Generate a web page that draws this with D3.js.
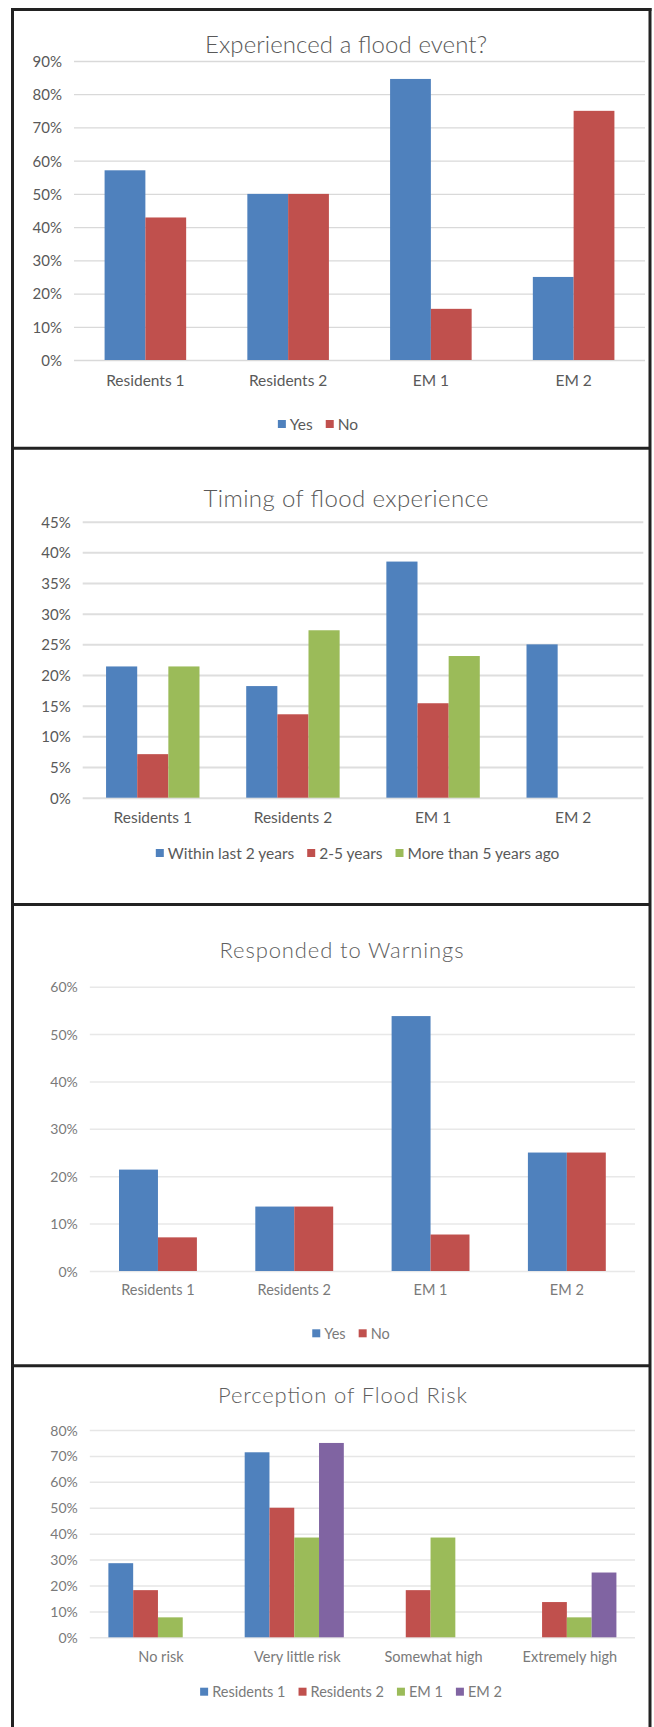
<!DOCTYPE html>
<html>
<head>
<meta charset="utf-8">
<script src="https://cdn.jsdelivr.net/npm/d3@7"></script>
<style>
  html, body { margin: 0; padding: 0; background: #ffffff; }
  svg { display: block; }
</style>
</head>
<body>
<svg id="chart" width="654" height="1727"></svg>
<script>
// ---------- DATA ----------
const groups = ["Residents 1", "Residents 2", "EM 1", "EM 2"];

const floodSeries = ["Yes", "No"];
const floodYes = [0.571, 0.500, 0.846, 0.250];
const floodNo  = [0.429, 0.500, 0.154, 0.750];
const floodTicks = [0, 0.1, 0.2, 0.3, 0.4, 0.5, 0.6, 0.7, 0.8, 0.9];

const timingSeries = ["Within last 2 years", "2-5 years", "More than 5 years ago"];
const timingWithin2 = [0.214, 0.182, 0.385, 0.250];
const timing2to5    = [0.071, 0.136, 0.154, 0.000];
const timingOver5   = [0.214, 0.273, 0.231, 0.000];
const timingTicks = [0, 0.05, 0.10, 0.15, 0.20, 0.25, 0.30, 0.35, 0.40, 0.45];

const warnSeries = ["Yes", "No"];
const warnYes = [0.214, 0.136, 0.538, 0.250];
const warnNo  = [0.071, 0.136, 0.077, 0.250];
const warnTicks = [0, 0.1, 0.2, 0.3, 0.4, 0.5, 0.6];

const riskLevels = ["No risk", "Very little risk", "Somewhat high", "Extremely high"];
const riskSeries = ["Residents 1", "Residents 2", "EM 1", "EM 2"];
const riskResidents1 = [0.286, 0.714, 0.000, 0.000];
const riskResidents2 = [0.182, 0.500, 0.182, 0.136];
const riskEM1        = [0.077, 0.385, 0.385, 0.077];
const riskEM2        = [0.000, 0.750, 0.000, 0.250];
const riskTicks = [0, 0.1, 0.2, 0.3, 0.4, 0.5, 0.6, 0.7, 0.8];

// ---------- STYLE / LAYOUT ----------
const BLUE = "#4f81bd", RED = "#c0504d", GREEN = "#9bbb59", PURPLE = "#8064a2";
const FONT = "Lato, 'Open Sans', sans-serif";

const panels = [
  { title: "Experienced a flood event?", titleX: 346, titleY: 53, titleSize: 24, titleW: 282, titleColor: "#595959",
    cats: groups, series: floodSeries, values: [floodYes, floodNo], colors: [BLUE, RED],
    x0: 74, x1: 645, yTop: 61, yBase: 360, max: 0.9, ticks: floodTicks,
    gridColor: "#d9d9d9", gridW: 1.3, textColor: "#595959", fontSize: 15,
    labelY: 386, legendY: 424, legendCX: 318 },
  { title: "Timing of flood experience", titleX: 346, titleY: 507, titleSize: 24, titleW: 285, titleColor: "#595959",
    cats: groups, series: timingSeries, values: [timingWithin2, timing2to5, timingOver5], colors: [BLUE, RED, GREEN],
    x0: 82.7, x1: 643.3, yTop: 521.7, yBase: 797.7, max: 0.45, ticks: timingTicks,
    gridColor: "#dedede", gridW: 2, textColor: "#595959", fontSize: 15,
    labelY: 823, legendY: 853, legendCX: 357.6 },
  { title: "Responded to Warnings", titleX: 341.5, titleY: 958, titleSize: 22, titleW: 244, titleColor: "#5f5f5f",
    cats: groups, series: warnSeries, values: [warnYes, warnNo], colors: [BLUE, RED],
    x0: 89.8, x1: 635, yTop: 986.7, yBase: 1271, max: 0.6, ticks: warnTicks,
    gridColor: "#e8e8e8", gridW: 1.5, textColor: "#7a7a7a", fontSize: 14,
    labelY: 1295, legendY: 1333.3, legendCX: 351 },
  { title: "Perception of Flood Risk", titleX: 342.5, titleY: 1402.7, titleSize: 22, titleW: 249, titleColor: "#5f5f5f",
    cats: riskLevels, series: riskSeries, values: [riskResidents1, riskResidents2, riskEM1, riskEM2], colors: [BLUE, RED, GREEN, PURPLE],
    x0: 89.8, x1: 635, yTop: 1430, yBase: 1637.3, max: 0.8, ticks: riskTicks,
    gridColor: "#e6e6e6", gridW: 1.5, textColor: "#7a7a7a", fontSize: 14,
    labelY: 1662, labelShift: 3, legendY: 1691.7, legendCX: 351 }
];

const svg = d3.select("#chart");
svg.append("rect").attr("width", 654).attr("height", 1727).attr("fill", "#ffffff");

panels.forEach(p => {
  const g = svg.append("g");
  const n = p.series.length;
  const pad = 1.5 / (n + 1.5);          // Excel gap width 150%
  const x = d3.scaleBand().domain(p.cats).range([p.x0, p.x1]).paddingInner(pad).paddingOuter(pad / 2);
  const xi = d3.scaleBand().domain(d3.range(n)).range([0, x.bandwidth()]).padding(0);
  const y = d3.scaleLinear().domain([0, p.max]).range([p.yBase, p.yTop]);

  // gridlines + tick labels
  const ax = g.append("g").attr("transform", `translate(${p.x0},0)`)
    .call(d3.axisLeft(y).tickValues(p.ticks).tickFormat(d3.format(".0%"))
      .tickSize(-(p.x1 - p.x0)).tickPadding(12));
  ax.select(".domain").remove();
  ax.selectAll(".tick line").attr("stroke", p.gridColor).attr("stroke-width", p.gridW);
  ax.selectAll(".tick text").attr("fill", p.textColor).attr("font-family", FONT)
    .attr("font-size", p.fontSize).attr("dy", "0.36em");

  // bars
  p.values.forEach((vals, j) => {
    g.append("g").selectAll("rect").data(vals.map((v, i) => ({ v, c: p.cats[i] })))
      .join("rect")
      .attr("x", d => x(d.c) + xi(j))
      .attr("y", d => y(d.v))
      .attr("width", xi.bandwidth())
      .attr("height", d => y(0) - y(d.v))
      .attr("fill", p.colors[j]);
  });

  // category labels
  g.append("g").selectAll("text").data(p.cats).join("text")
    .attr("x", d => x(d) + x.bandwidth() / 2 + (p.labelShift || 0))
    .attr("y", p.labelY)
    .attr("text-anchor", "middle")
    .attr("font-family", FONT).attr("font-size", p.fontSize + 0.5)
    .attr("fill", p.textColor)
    .text(d => d);

  // title
  g.append("text").attr("x", p.titleX).attr("y", p.titleY)
    .attr("text-anchor", "middle").attr("font-family", FONT)
    .attr("font-weight", 300)
    .attr("textLength", p.titleW).attr("lengthAdjust", "spacing")
    .attr("font-size", p.titleSize).attr("fill", p.titleColor).text(p.title);

  // legend
  const lg = g.append("g");
  let cx = 0;
  p.series.forEach((s, j) => {
    const it = lg.append("g");
    it.append("rect").attr("x", 0).attr("y", -4).attr("width", 8).attr("height", 8).attr("fill", p.colors[j]);
    const t = it.append("text").attr("x", 12).attr("y", 0).attr("dy", "0.36em")
      .attr("font-family", FONT).attr("font-size", p.fontSize + 0.5).attr("fill", p.textColor).text(s);
    const w = 12 + t.node().getComputedTextLength();
    it.attr("transform", `translate(${cx},0)`);
    cx += w + 13;
  });
  const total = cx - 13;
  lg.attr("transform", `translate(${p.legendCX - total / 2},${p.legendY})`);
});

// frame lines
const frame = svg.append("g").attr("stroke", "#222222").attr("stroke-width", 3).attr("fill", "none");
frame.append("line").attr("x1", 11).attr("x2", 651.5).attr("y1", 9.5).attr("y2", 9.5);
frame.append("line").attr("x1", 12.5).attr("x2", 12.5).attr("y1", 8).attr("y2", 1727);
frame.append("line").attr("x1", 650).attr("x2", 650).attr("y1", 8).attr("y2", 1727);
[448.3, 904.5, 1365.7].forEach(yy =>
  frame.append("line").attr("x1", 12.5).attr("x2", 650).attr("y1", yy).attr("y2", yy));
</script>
</body>
</html>
